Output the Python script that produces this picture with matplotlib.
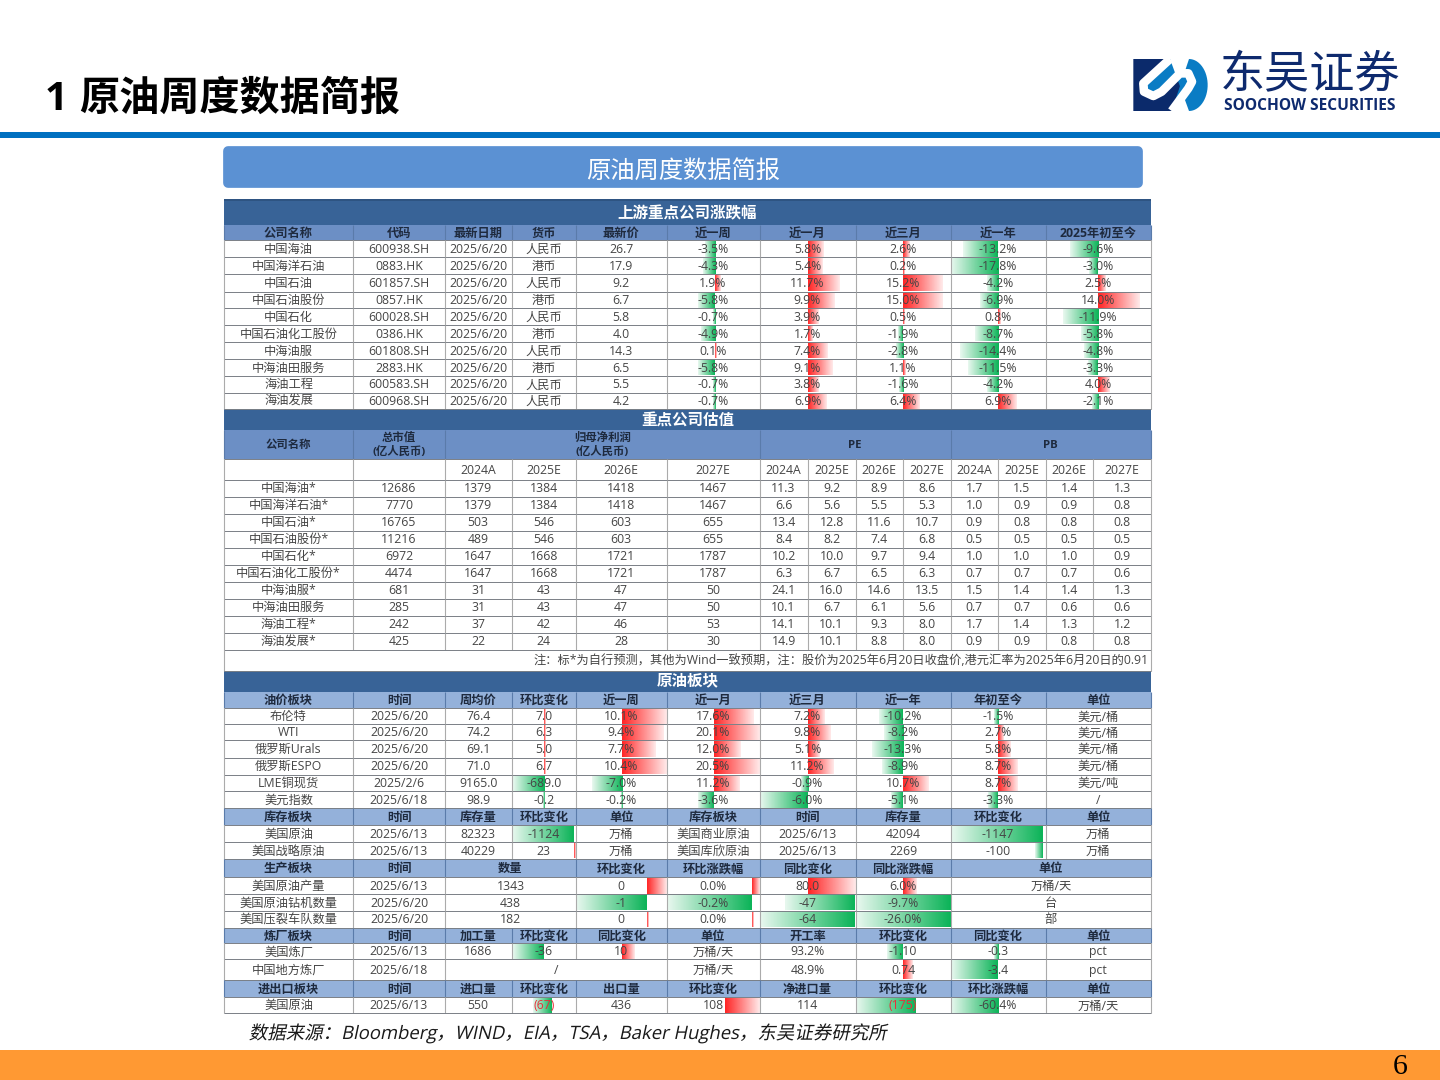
import matplotlib
matplotlib.use('Agg')
import matplotlib.pyplot as plt
import numpy as np
from matplotlib.patches import Rectangle, FancyBboxPatch, Polygon
from matplotlib.patheffects import AbstractPathEffect
from matplotlib.transforms import Affine2D
from matplotlib.colors import to_rgb

plt.rcParams['font.family'] = ['Open Sans', 'Noto Sans CJK SC', 'DejaVu Sans']

# 上游重点公司涨跌幅
up_headers = ['公司名称', '代码', '最新日期', '货币', '最新价', '近一周', '近一月', '近三月', '近一年', '2025年初至今']
up_names = ['中国海油', '中国海洋石油', '中国石油', '中国石油股份', '中国石化', '中国石油化工股份', '中海油服', '中海油田服务', '海油工程', '海油发展']
up_codes = ['600938.SH', '0883.HK', '601857.SH', '0857.HK', '600028.SH', '0386.HK', '601808.SH', '2883.HK', '600583.SH', '600968.SH']
up_currency = ['人民币', '港币', '人民币', '港币', '人民币', '港币', '人民币', '港币', '人民币', '人民币']
up_price = [26.7, 17.9, 9.2, 6.7, 5.8, 4.0, 14.3, 6.5, 5.5, 4.2]
up_week = [-3.5, -4.3, 1.9, -5.8, -0.7, -4.9, 0.1, -5.8, -0.7, -0.7]
up_month = [5.8, 5.4, 11.7, 9.9, 3.9, 1.7, 7.4, 9.1, 3.8, 6.9]
up_3m = [2.6, 0.2, 15.2, 15.0, 0.5, -1.9, -2.8, 1.1, -1.6, 6.4]
up_year = [-13.2, -17.8, -4.2, -6.9, 0.8, -8.7, -14.4, -11.5, -4.2, 6.9]
up_ytd = [-9.6, -3.0, 2.5, 14.0, -11.9, -5.8, -4.8, -3.3, 4.0, -2.1]

# 重点公司估值
val_names = ['中国海油*', '中国海洋石油*', '中国石油*', '中国石油股份*', '中国石化*', '中国石油化工股份*', '中海油服*', '中海油田服务', '海油工程*', '海油发展*']
val_cap = [12686, 7770, 16765, 11216, 6972, 4474, 681, 285, 242, 425]
val_years = ['2024A', '2025E', '2026E', '2027E']
profit_24 = [1379, 1379, 503, 489, 1647, 1647, 31, 31, 37, 22]
profit_25 = [1384, 1384, 546, 546, 1668, 1668, 43, 43, 42, 24]
profit_26 = [1418, 1418, 603, 603, 1721, 1721, 47, 47, 46, 28]
profit_27 = [1467, 1467, 655, 655, 1787, 1787, 50, 50, 53, 30]
pe_24 = [11.3, 6.6, 13.4, 8.4, 10.2, 6.3, 24.1, 10.1, 14.1, 14.9]
pe_25 = [9.2, 5.6, 12.8, 8.2, 10.0, 6.7, 16.0, 6.7, 10.1, 10.1]
pe_26 = [8.9, 5.5, 11.6, 7.4, 9.7, 6.5, 14.6, 6.1, 9.3, 8.8]
pe_27 = [8.6, 5.3, 10.7, 6.8, 9.4, 6.3, 13.5, 5.6, 8.0, 8.0]
pb_24 = [1.7, 1.0, 0.9, 0.5, 1.0, 0.7, 1.5, 0.7, 1.7, 0.9]
pb_25 = [1.5, 0.9, 0.8, 0.5, 1.0, 0.7, 1.4, 0.7, 1.4, 0.9]
pb_26 = [1.4, 0.9, 0.8, 0.5, 1.0, 0.7, 1.4, 0.6, 1.3, 0.8]
pb_27 = [1.3, 0.8, 0.8, 0.5, 0.9, 0.6, 1.3, 0.6, 1.2, 0.8]
val_note = '注：标*为自行预测，其他为Wind一致预期，注：股价为2025年6月20日收盘价,港元汇率为2025年6月20日的0.91'

# 油价板块
oil_headers = ['油价板块', '时间', '周均价', '环比变化', '近一周', '近一月', '近三月', '近一年', '年初至今', '单位']
oil_names = ['布伦特', 'WTI', '俄罗斯Urals', '俄罗斯ESPO', 'LME铜现货', '美元指数']
oil_dates = ['2025/6/20', '2025/6/20', '2025/6/20', '2025/6/20', '2025/2/6', '2025/6/18']
oil_avg = [76.4, 74.2, 69.1, 71.0, 9165.0, 98.9]
oil_chg = [7.0, 6.3, 5.0, 6.7, -689.0, -0.2]
oil_week = [10.1, 9.4, 7.7, 10.4, -7.0, -0.2]
oil_month = [17.6, 20.1, 12.0, 20.5, 11.2, -3.6]
oil_3m = [7.2, 9.8, 5.1, 11.2, -0.9, -6.0]
oil_year = [-10.2, -8.2, -13.3, -8.9, 10.7, -5.1]
oil_ytd = [-1.5, 2.7, 5.8, 8.7, 8.7, -3.3]
oil_units = ['美元/桶', '美元/桶', '美元/桶', '美元/桶', '美元/吨', '/']

# 库存板块
stock_headers = ['库存板块', '时间', '库存量', '环比变化', '单位', '库存板块', '时间', '库存量', '环比变化', '单位']
stock_row1 = ['美国原油', '2025/6/13', '82323', '-1124', '万桶', '美国商业原油', '2025/6/13', '42094', '-1147', '万桶']
stock_row2 = ['美国战略原油', '2025/6/13', '40229', '23', '万桶', '美国库欣原油', '2025/6/13', '2269', '-100', '万桶']
stock_chg_a = [-1124, 23]
stock_chg_b = [-1147, -100]

# 生产板块
prod_headers = ['生产板块', '时间', '数量', '环比变化', '环比涨跌幅', '同比变化', '同比涨跌幅', '单位']
prod_row1 = ['美国原油产量', '2025/6/13', '1343', '0', '0.0%', '80.0', '6.0%', '万桶/天']
prod_row2 = ['美国原油钻机数量', '2025/6/20', '438', '-1', '-0.2%', '-47', '-9.7%', '台']
prod_row3 = ['美国压裂车队数量', '2025/6/20', '182', '0', '0.0%', '-64', '-26.0%', '部']
# 显示为 0 的格子条形并不为 0，按条长估的未取整值
prod_chg = [0.28, -1, 0]
prod_chg_pct = [0.02, -0.2, 0]
prod_yoy = [80, -47, -64]
prod_yoy_pct = [6.0, -9.7, -26.0]

# 炼厂板块
ref_headers = ['炼厂板块', '时间', '加工量', '环比变化', '同比变化', '单位', '开工率', '环比变化', '同比变化', '单位']
ref_row1 = ['美国炼厂', '2025/6/13', '1686', '-36', '10', '万桶/天', '93.2%', '-1.10', '-0.3', 'pct']
ref_row2 = ['中国地方炼厂', '2025/6/18', '/', '万桶/天', '48.9%', '0.74', '-3.4', 'pct']
ref_proc_chg = [-36]
ref_proc_yoy = [10]
ref_run_chg = [-1.10, 0.74]
ref_run_yoy = [-0.3, -3.4]

# 进出口板块
trade_headers = ['进出口板块', '时间', '进口量', '环比变化', '出口量', '环比变化', '净进口量', '环比变化', '环比涨跌幅', '单位']
trade_row = ['美国原油', '2025/6/13', '550', '(67)', '436', '108', '114', '(175)', '-60.4%', '万桶/天']
trade_imp_chg = [-67]
trade_exp_chg = [108]
trade_net_chg = [-175]
trade_net_pct = [-60.4]

BAND = '#386397'
HEAD_DARK = '#6C8FC5'
HEAD_LIGHT = '#94B1DA'
TXT = '#454545'
HEAD_TXT = '#1E2A3E'
H_LINE = '#7A7F86'
V_LINE = '#ABABAB'
FS = 8.8

E = [224, 353, 445, 511.5, 576, 666.5, 759.5, 855.5, 950.5, 1045.5, 1151]
V = E[:6] + [759.5, 807.5, 855.5, 903, 950.5, 997.5, 1045.5, 1093, 1151]


class Shear(AbstractPathEffect):
    # 把文字往右斜，CJK字体没有斜体
    def __init__(self, y0, deg=12):
        self.y0, self.deg = y0, deg

    def draw_path(self, renderer, gc, tpath, affine, rgbFace=None):
        k = np.tan(np.radians(self.deg))
        shear = Affine2D.from_values(1, 0, k, 1, -k * self.y0, 0)
        renderer.draw_path(gc, tpath, affine + shear, rgbFace)


fig = plt.figure(figsize=(14.4, 10.8), dpi=100)
ax = fig.add_axes([0, 0, 1, 1])


def rect(x0, y0, x1, y1, color, z=1):
    ax.add_patch(Rectangle((x0, y0), x1 - x0, y1 - y0, facecolor=color, edgecolor='none', zorder=z))


def row(y0, y1, cells, edges, fill=None, bold=False, color=None, size=FS):
    if fill:
        rect(edges[0], y0, edges[-1], y1, fill)
    for e in edges:
        ax.plot([e, e], [y0, y1], color=V_LINE if not fill else '#5A7BAA', lw=0.8, zorder=4, solid_capstyle='butt')
    ax.plot([edges[0], edges[-1]], [y1, y1], color=H_LINE, lw=0.7, zorder=4, solid_capstyle='butt')
    for i, c in enumerate(cells):
        if c == '':
            continue
        col = color or (HEAD_TXT if bold else TXT)
        if c.startswith('('):
            col = '#E8303A'
        ax.text((edges[i] + edges[i + 1]) / 2, (y0 + y1) / 2 + 0.6, c, ha='center', va='center', fontsize=size,
                fontweight='bold' if bold else 'normal', color=col, zorder=6, linespacing=1.3)


def band(y0, y1, title, dy=0.5):
    rect(E[0], y0, E[-1], y1, BAND, z=3)
    ax.text((E[0] + E[-1]) / 2, (y0 + y1) / 2 + dy, title, ha='center', va='center', fontsize=11.2,
            fontweight='bold', color='white', zorder=6)


def bars(values, ys, left, right, axis, neg, pos):
    # 每个格子一根渐变条：靠轴处最深，往外变淡
    axes = axis if isinstance(axis, (list, tuple)) else [axis] * len(values)
    for v, a, y0, y1 in zip(values, axes, ys[:-1], ys[1:]):
        w = max(abs(v) * (neg if v < 0 else pos), 1.2)
        c = to_rgb('#00B050') if v < 0 else to_rgb('#FF1A1A')
        x0 = max(a - w, left) if v < 0 else a
        x1 = a if v < 0 else min(a + w, right)
        alpha = np.linspace(0.1, 0.95, 32) if v < 0 else np.linspace(0.95, 0.1, 32)
        img = np.ones((1, 32, 4))
        img[..., :3] = c
        img[..., 3] = alpha
        ax.imshow(img, extent=(x0, x1, y1 - 0.5, y0 + 0.5), aspect='auto', interpolation='bilinear', zorder=2)


def pct(vals):
    return [f'{v:.1f}%' for v in vals]


# 页面框架
rect(0, 132, 1440, 137.7, '#0070C0')
rect(0, 1050, 1440, 1080, '#FF9933')
ax.text(45, 99.5, '1', ha='left', va='center', fontsize=29, fontweight='bold', color='black')
ax.text(79, 99.5, '原油周度数据简报', ha='left', va='center', fontsize=28.9, fontweight='black', color='black')
ax.text(1400.5, 1067, '6', ha='center', va='center', fontsize=21.5, family='Liberation Serif', color='black')
ax.add_patch(FancyBboxPatch((228, 151), 910, 32, boxstyle='round,pad=0,rounding_size=0.1', mutation_aspect=1,
                            facecolor='#5B91D3', edgecolor='#5B91D3', lw=7, joinstyle='round', zorder=1))
ax.text(683, 172, '原油周度数据简报', ha='center', va='center', fontsize=17.5, color='white', zorder=6)

# logo
s_line = np.array([(150, 57), (70, 130), (72, 155), (100, 168), (125, 155), (180, 100), (205, 100), (216, 125), (205, 145), (155, 213)], float)
t = np.linspace(-np.pi / 2, np.pi / 2, 30)
d_arc = np.column_stack([207 + 56 * np.cos(t), 135 + 78 * np.sin(t)])[::-1]
logo_xy = lambda p: p / 3 + [1120, 40]
ax.add_patch(Polygon(logo_xy(np.vstack([[(40, 57)], s_line, [(40, 213)]])), facecolor='#0B2A6B', edgecolor='none', zorder=2))
ax.add_patch(Polygon(logo_xy(np.vstack([s_line, d_arc[::-1], [(150, 57)]])), facecolor='#0A7CC4', edgecolor='none', zorder=2))
sx, sy = logo_xy(s_line).T
ax.plot(sx, sy, color='white', lw=6.2, solid_joinstyle='round', solid_capstyle='butt', zorder=3)
ax.text(1310.5, 76.5, '东吴证券', ha='center', va='center', fontsize=32.5, color='#0E2A6E')
ax.text(1310, 106.5, 'SOOCHOW SECURITIES', ha='center', va='center', fontsize=11.2, fontweight='bold', color='#0E2A6E')

# 上游重点公司涨跌幅
up_y = [240.3, 257.3, 274.3, 291.5, 308.3, 325, 342, 359, 376, 392.7, 409.3]
rect(E[0], 199, E[-1], 200.5, '#2E5482', z=4)
band(199, 225, '上游重点公司涨跌幅', dy=2.5)
row(225, 240.3, up_headers, E, fill=HEAD_DARK, bold=True)
for i in range(10):
    row(up_y[i], up_y[i + 1], [up_names[i], up_codes[i], '2025/6/20', up_currency[i], f'{up_price[i]:.1f}', f'{up_week[i]:.1f}%',
                               f'{up_month[i]:.1f}%', f'{up_3m[i]:.1f}%', f'{up_year[i]:.1f}%', f'{up_ytd[i]:.1f}%'], E)
bars(up_week, up_y, E[5], E[6], 715, 2.9, 2.9)
bars(up_month, up_y, E[6], E[7], 808, 2.65, 2.65)
bars(up_3m, up_y, E[7], E[8], 903, 2.63, 2.63)
bars(up_year, up_y, E[8], E[9], 998, 2.65, 2.65)
bars(up_ytd, up_y, E[9], E[10], 1098, 2.95, 3.0)

# 重点公司估值
val_y = [479.7, 496.7, 513.7, 530.7, 547.7, 564.7, 581.7, 598.7, 615.7, 632.7, 649.7]
band(409.3, 430, '重点公司估值', dy=2)
row(430, 459.3, ['公司名称', '总市值\n(亿人民币)', '归母净利润\n(亿人民币)', 'PE', 'PB'], [E[0], E[1], E[2], 759.5, 950.5, E[-1]],
    fill=HEAD_DARK, bold=True, size=8.2)
row(459.3, 479.7, ['', ''] + val_years * 3, V)
for i in range(10):
    row(val_y[i], val_y[i + 1], [val_names[i], str(val_cap[i]), str(profit_24[i]), str(profit_25[i]), str(profit_26[i]), str(profit_27[i]),
                                 f'{pe_24[i]:.1f}', f'{pe_25[i]:.1f}', f'{pe_26[i]:.1f}', f'{pe_27[i]:.1f}',
                                 f'{pb_24[i]:.1f}', f'{pb_25[i]:.1f}', f'{pb_26[i]:.1f}', f'{pb_27[i]:.1f}'], V)
row(649.7, 670.7, [''], [E[0], E[-1]])
ax.text(1149, 660.5, val_note, ha='right', va='center', fontsize=FS, color=TXT, zorder=6)

# 原油板块
band(670.7, 691.7, '原油板块', dy=0)
oil_y = [708.3, 724.3, 740.3, 757.7, 774.7, 791.3, 808.3]
row(691.7, 708.3, oil_headers, E, fill=HEAD_LIGHT, bold=True)
for i in range(6):
    row(oil_y[i], oil_y[i + 1], [oil_names[i], oil_dates[i], f'{oil_avg[i]:.1f}', f'{oil_chg[i]:.1f}', pct(oil_week)[i], pct(oil_month)[i],
                                 pct(oil_3m)[i], pct(oil_year)[i], pct(oil_ytd)[i], oil_units[i]], E)
bars(oil_chg, oil_y, E[3], E[4], 544, 0.045, 0.1)
bars(oil_week, oil_y, E[4], E[5], 622, 4.3, 4.4)
bars(oil_month, oil_y, E[5], E[6], 714, 4.4, 2.24)
bars(oil_3m, oil_y, E[6], E[7], 808, 8, 2.3)
bars(oil_year, oil_y, E[7], E[8], 903, 2.35, 2.35)
bars(oil_ytd, oil_y, E[8], E[9], 998, 3, 2.2)

# 库存板块
stock_y = [825.3, 842.3, 859]
row(808.3, 825.3, stock_headers, E, fill=HEAD_LIGHT, bold=True)
row(stock_y[0], stock_y[1], stock_row1, E)
row(stock_y[1], stock_y[2], stock_row2, E)
bars(stock_chg_a, stock_y, E[3], E[4], 574, 0.055, 0.05)
bars(stock_chg_b, stock_y, E[8], E[9], 1043, 0.08, 0.08)

# 生产板块
P = [E[0], E[1], E[2], E[4], E[5], E[6], E[7], E[8], E[10]]
prod_y = [877.3, 894.3, 911, 927.7]
row(859, 877.3, prod_headers, P, fill=HEAD_LIGHT, bold=True)
for i, r in enumerate([prod_row1, prod_row2, prod_row3]):
    row(prod_y[i], prod_y[i + 1], r, P)
bars(prod_chg, prod_y, E[4], E[5], 646.7, 70.7, 71)
bars(prod_chg_pct, prod_y, E[5], E[6], 752, 425, 400)
bars(prod_yoy, prod_y, E[6], E[7], [808, 855, 855], 1.48, 0.59)
bars(prod_yoy_pct, prod_y, E[7], E[8], [903, 950, 950], 9.7, 2.33)

# 炼厂板块
ref_y = [943.3, 959.3, 980]
row(927.7, 943.3, ref_headers, E, fill=HEAD_LIGHT, bold=True)
row(ref_y[0], ref_y[1], ref_row1, E)
row(ref_y[1], ref_y[2], ref_row2, [E[0], E[1], E[2], E[5], E[6], E[7], E[8], E[9], E[10]])
bars(ref_proc_chg, ref_y[:2], E[3], E[4], 544, 0.86, 0.86)
bars(ref_proc_yoy, ref_y[:2], E[4], E[5], 622, 1.3, 1.3)
bars(ref_run_chg, ref_y, E[7], E[8], 903, 14.5, 13.5)
bars(ref_run_yoy, ref_y, E[8], E[9], 998, 13.8, 13.8)

# 进出口板块
trade_y = [997.3, 1013.3]
row(980, 997.3, trade_headers, E, fill=HEAD_LIGHT, bold=True)
row(trade_y[0], trade_y[1], trade_row, E)
bars(trade_imp_chg, trade_y, E[3], E[4], 552, 0.28, 0.28)
bars(trade_exp_chg, trade_y, E[5], E[6], 725, 0.33, 0.33)
bars(trade_net_chg, trade_y, E[7], E[8], 915, 0.34, 0.34)
bars(trade_net_pct, trade_y, E[8], E[9], 998, 0.78, 0.78)

ax.text(250, 1033, '数据来源：Bloomberg，WIND，EIA，TSA，Baker Hughes，东吴证券研究所', ha='left', va='center',
        fontsize=13.3, color='#1A1A1A', path_effects=[Shear(47)])

ax.set_xlim(0, 1440)
ax.set_ylim(1080, 0)
ax.axis('off')
fig.savefig('out.png', dpi=100)
